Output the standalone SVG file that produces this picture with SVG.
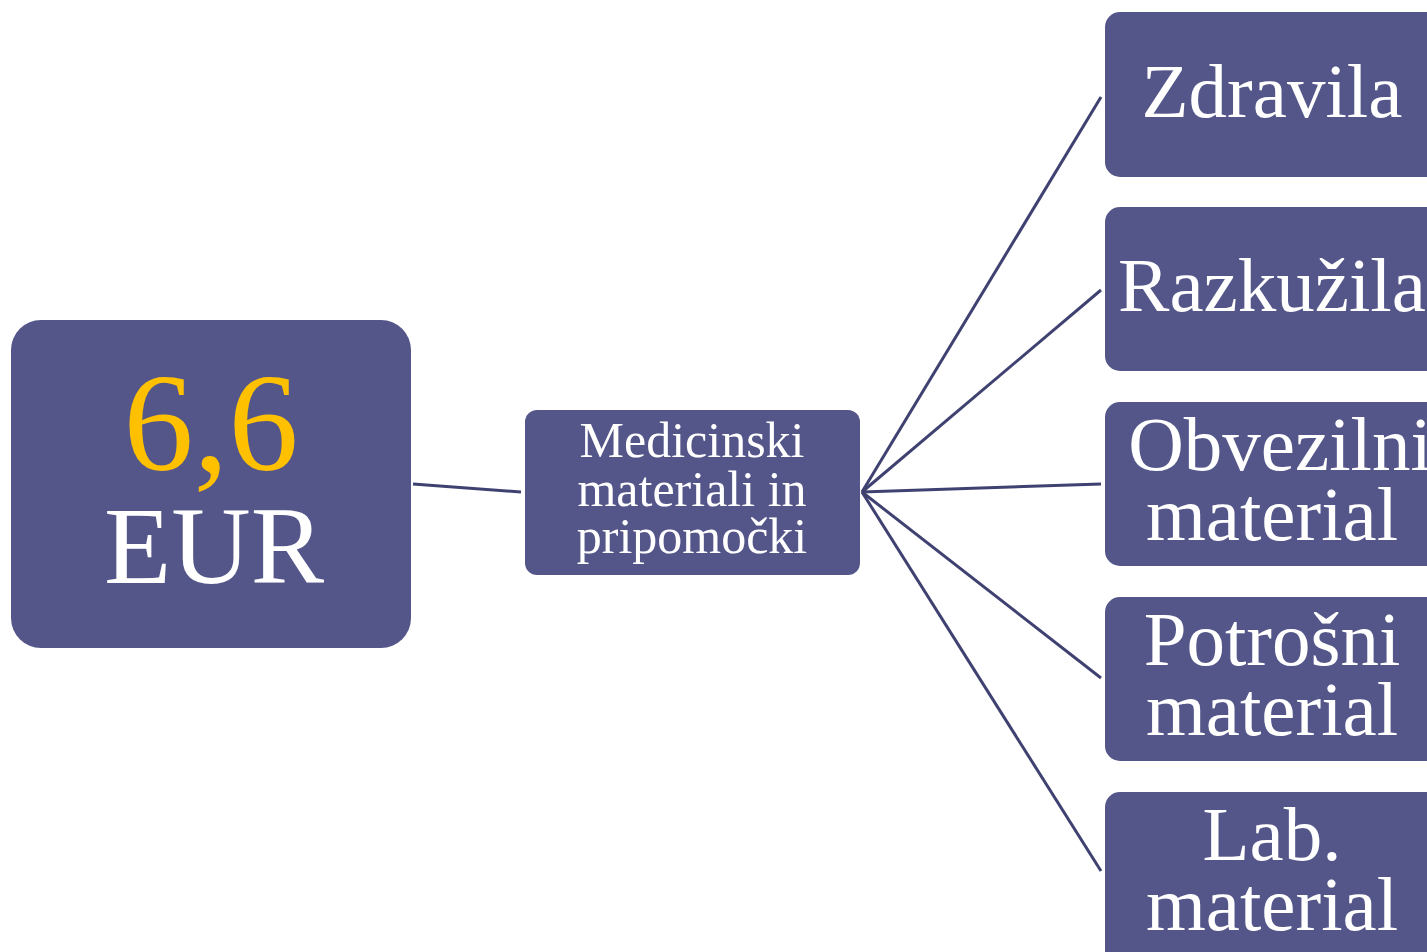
<svg xmlns="http://www.w3.org/2000/svg" width="1427" height="952" viewBox="0 0 1427 952">
<style>
.box{fill:#54568A;}
.t{font-family:"Liberation Serif","Times New Roman",serif;fill:#FFFFFF;text-anchor:middle;}
.conn{stroke:#3F4170;stroke-width:3;fill:none;}
</style>
<rect width="1427" height="952" fill="#FFFFFF"/>
<g id="connectors">
<line class="conn" x1="413" y1="484" x2="521" y2="492"/>
<line class="conn" x1="862" y1="492" x2="1101" y2="97"/>
<line class="conn" x1="862" y1="492" x2="1101" y2="290"/>
<line class="conn" x1="862" y1="492" x2="1101" y2="484"/>
<line class="conn" x1="862" y1="492" x2="1101" y2="678"/>
<line class="conn" x1="862" y1="492" x2="1101" y2="871"/>
</g>
<g id="node-total">
<rect class="box" x="11" y="320" width="400" height="328" rx="30"/>
<text class="t" x="211" y="470" font-size="140" style="fill:#FFC000">6,6</text>
<text class="t" x="214" y="583" font-size="110">EUR</text>
</g>
<g id="node-medicinski">
<rect class="box" x="525" y="410" width="335" height="165" rx="12"/>
<text class="t" font-size="50"><tspan x="692" y="457">Medicinski</tspan><tspan x="692" y="506">materiali in</tspan><tspan x="692" y="553">pripomočki</tspan></text>
</g>
<g id="node-zdravila">
<rect class="box" x="1105" y="12" width="340" height="165" rx="15"/>
<text class="t" x="1272" y="117" font-size="77">Zdravila</text>
</g>
<g id="node-razkuzila">
<rect class="box" x="1105" y="207" width="340" height="164" rx="15"/>
<text class="t" x="1272" y="311" font-size="77">Razkužila</text>
</g>
<g id="node-obvezilni">
<rect class="box" x="1105" y="402" width="340" height="164" rx="15"/>
<text class="t" font-size="77"><tspan x="1280" y="470">Obvezilni</tspan><tspan x="1272" y="540">material</tspan></text>
</g>
<g id="node-potrosni">
<rect class="box" x="1105" y="597" width="340" height="164" rx="15"/>
<text class="t" font-size="77"><tspan x="1272" y="665">Potrošni</tspan><tspan x="1272" y="735">material</tspan></text>
</g>
<g id="node-lab">
<rect class="box" x="1105" y="792" width="340" height="180" rx="15"/>
<text class="t" font-size="77"><tspan x="1272" y="860">Lab.</tspan><tspan x="1272" y="930">material</tspan></text>
</g>
</svg>
